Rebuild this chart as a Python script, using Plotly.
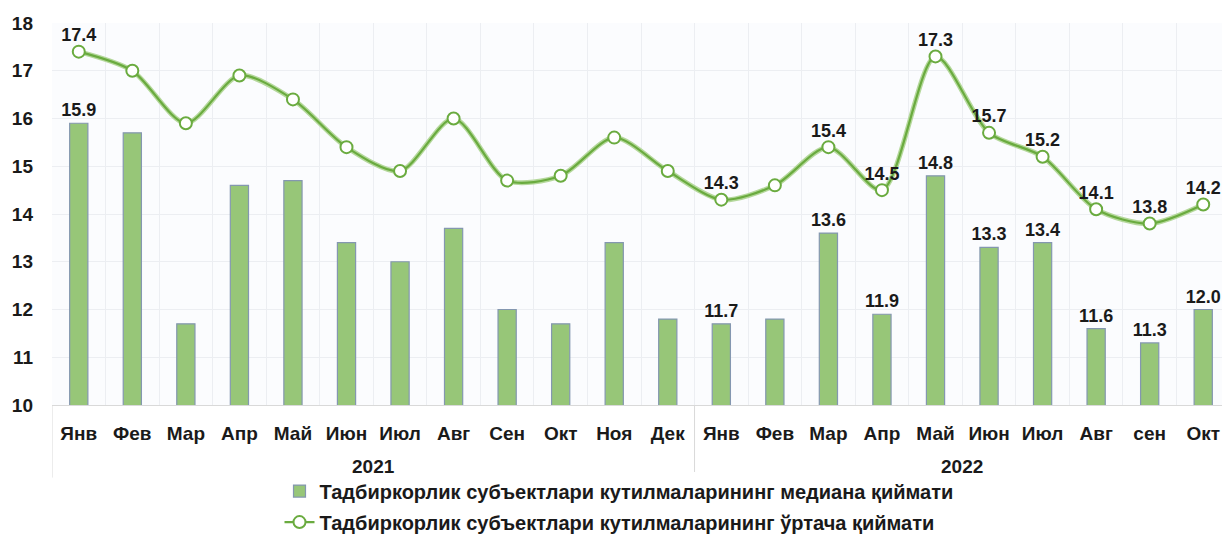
import plotly.graph_objects as go

years = ["2021"] * 12 + ["2022"] * 10
months = ["Янв", "Фев", "Мар", "Апр", "Май", "Июн", "Июл", "Авг", "Сен", "Окт", "Ноя", "Дек",
          "Янв", "Фев", "Мар", "Апр", "Май", "Июн", "Июл", "Авг", "сен", "Окт"]
median_vals = [15.9, 15.7, 11.7, 14.6, 14.7, 13.4, 13.0, 13.7, 12.0, 11.7, 13.4, 11.8,
               11.7, 11.8, 13.6, 11.9, 14.8, 13.3, 13.4, 11.6, 11.3, 12.0]
mean_vals = [17.4, 17.0, 15.9, 16.9, 16.4, 15.4, 14.9, 16.0, 14.7, 14.8, 15.6, 14.9,
             14.3, 14.6, 15.4, 14.5, 17.3, 15.7, 15.2, 14.1, 13.8, 14.2]
median_labeled = [1, 0, 0, 0, 0, 0, 0, 0, 0, 0, 0, 0,
                  1, 0, 1, 1, 1, 1, 1, 1, 1, 1]
mean_labeled = [1, 0, 0, 0, 0, 0, 0, 0, 0, 0, 0, 0,
                1, 0, 1, 1, 1, 1, 1, 1, 1, 1]

name_bar = "Тадбиркорлик субъектлари кутилмаларининг медиана қиймати"
name_line = "Тадбиркорлик субъектлари кутилмаларининг ўртача қиймати"

idx = list(range(len(months)))
font_family = "Liberation Sans, Arial, sans-serif"
txt_color = "#1a1a1a"

fig = go.Figure()
fig.add_trace(go.Bar(
    x=idx, y=median_vals, name=name_bar, width=0.34, legendgroup="a",
    marker=dict(color="#97c678", line=dict(color="#8497b0", width=1.2)),
    text=[f"{v:.1f}" if f else "" for v, f in zip(median_vals, median_labeled)],
    textposition="outside", cliponaxis=False, constraintext="none",
    textfont=dict(family=font_family, size=18, color=txt_color, weight="bold"),
))
fig.add_trace(go.Scatter(
    x=idx, y=mean_vals, mode="lines", showlegend=False, hoverinfo="skip",
    line=dict(color="#b5d89c", width=5, shape="spline", smoothing=0.8),
))
fig.add_trace(go.Scatter(
    x=idx, y=mean_vals, mode="lines+markers", name=name_line, legendgroup="b",
    line=dict(color="#6aab3f", width=2.2, shape="spline", smoothing=0.8),
    marker=dict(size=12, color="white", line=dict(color="#6aab3f", width=2)),
))
fig.add_trace(go.Scatter(
    x=idx, y=mean_vals, mode="markers+text", showlegend=False, hoverinfo="skip",
    marker=dict(size=8, opacity=0),
    text=[f"{v:.1f}" if f else "" for v, f in zip(mean_vals, mean_labeled)],
    textposition="top center", cliponaxis=False,
    textfont=dict(family=font_family, size=18, color=txt_color, weight="bold"),
))

# year group labels and dividers, derived from the data
groups = []
for i, y in enumerate(years):
    if not groups or groups[-1][0] != y:
        groups.append([y, i, i])
    else:
        groups[-1][2] = i
for y, start, end in groups:
    fig.add_annotation(x=(start + end) / 2, y=-0.162, xref="x", yref="paper",
                       text=y, showarrow=False, yanchor="middle",
                       font=dict(family=font_family, size=19, color=txt_color, weight="bold"))
    fig.add_shape(type="line", xref="x", yref="paper", x0=start - 0.5, x1=start - 0.5,
                  y0=0, y1=-0.19, line=dict(color="#d9d9d9", width=1))

# the page body adds an 8px offset; the figure is sized to fill the rest of the window
fig.update_layout(
    width=1222, height=528,
    margin=dict(l=44, r=0, t=15, b=131, autoexpand=False),
    paper_bgcolor="white", plot_bgcolor="#fbfcfe",
    font=dict(family=font_family, color=txt_color),
    showlegend=True,
    legend=dict(orientation="v", x=0.5, xanchor="center", xref="container",
                y=0.122, yanchor="top", yref="container",
                font=dict(family=font_family, size=20, color=txt_color, weight="bold"),
                tracegroupgap=2, itemwidth=30),
    xaxis=dict(range=[-0.5, len(months) - 0.5], tickmode="array", tickvals=idx, ticktext=months,
               showgrid=False, zeroline=False, automargin=False,
               minor=dict(tickmode="array", tickvals=[i + 0.5 for i in idx[:-1]],
                          showgrid=True, gridcolor="#eceef2", ticks=""),
               tickfont=dict(family=font_family, size=19, color=txt_color, weight="bold"),
               linecolor="#d9d9d9", showline=True, ticks="", ticklabelstandoff=11),
    yaxis=dict(range=[10, 18], dtick=1, showgrid=True, gridcolor="#eceef2", automargin=False,
               tickfont=dict(family=font_family, size=19, color=txt_color, weight="bold"),
               zeroline=False, ticks="", ticklabelstandoff=18),
)

fig.write_html("out.html")
